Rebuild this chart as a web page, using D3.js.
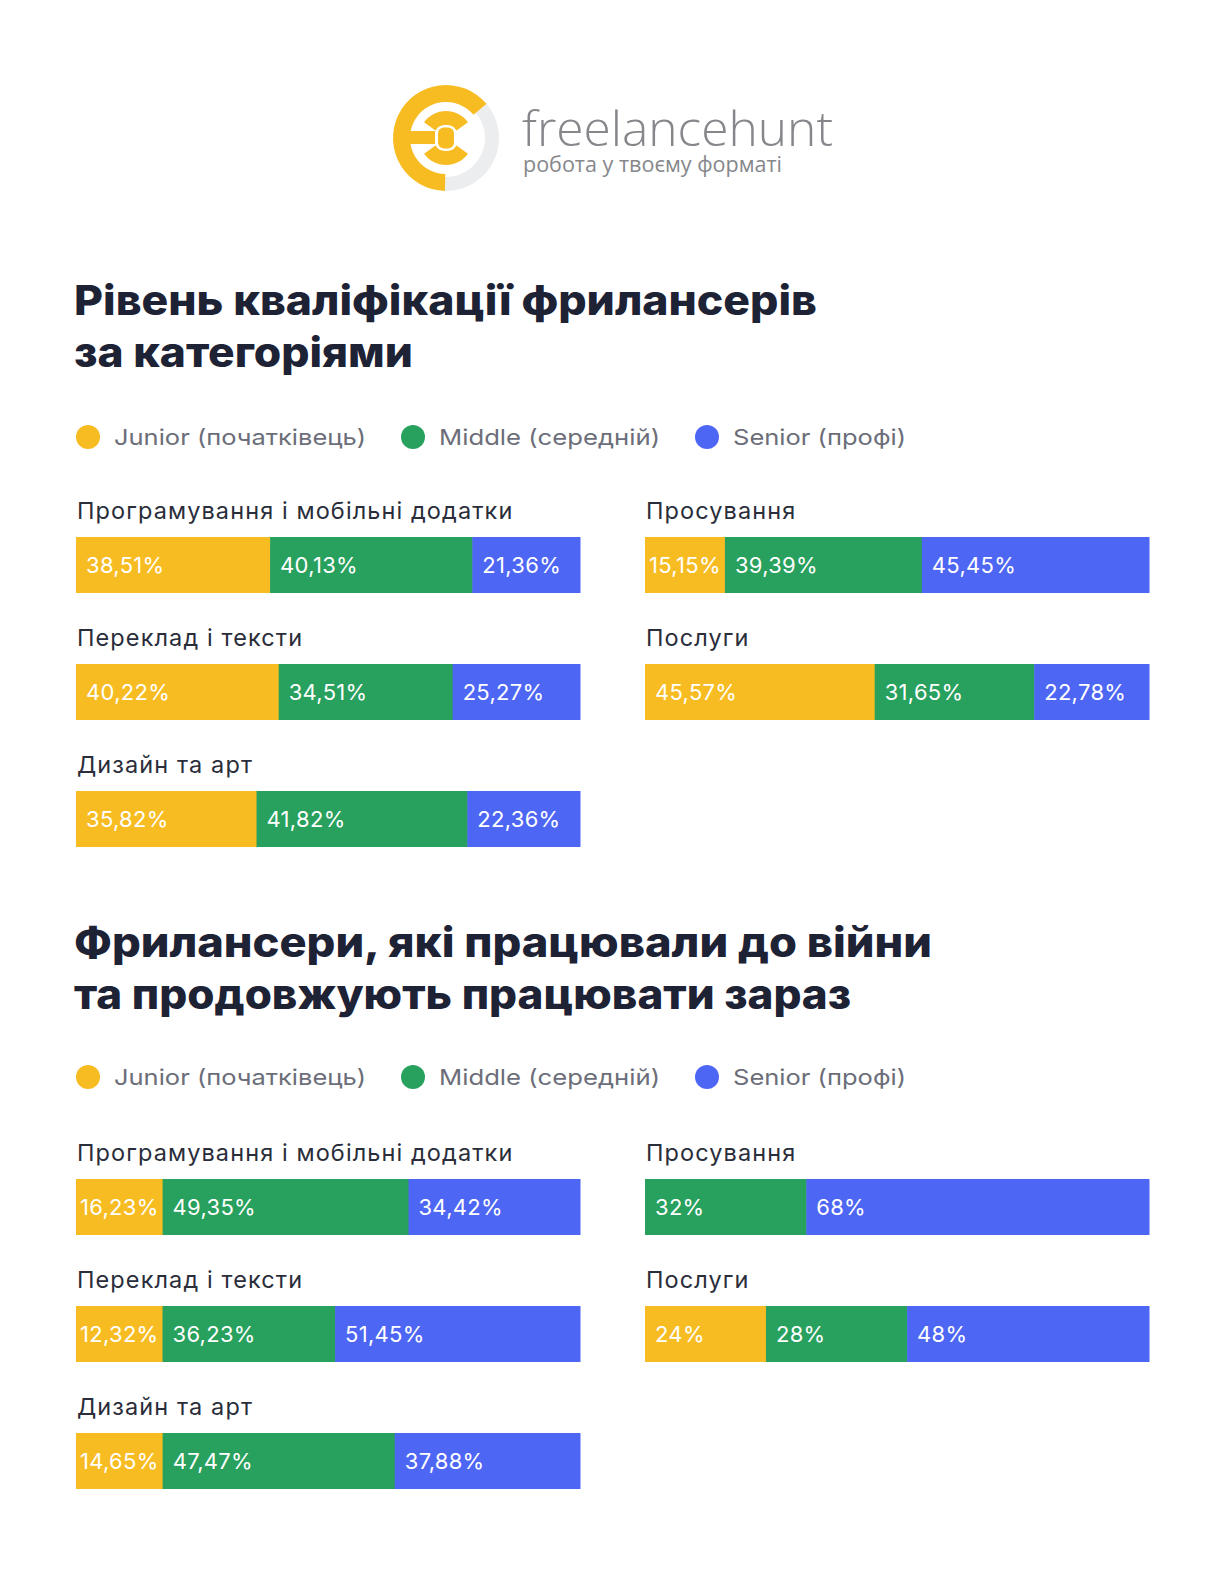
<!DOCTYPE html>
<html><head><meta charset="utf-8">
<script src="https://cdn.jsdelivr.net/npm/d3@7"></script>
<style>
html,body{margin:0;padding:0;background:#fff;}
svg{display:block;font-family:Inter,"Noto Sans",sans-serif;}
</style></head>
<body>
<svg id="c" width="1225" height="1569"></svg>
<script>
// ---- data ----
const seriesNames = ["Junior (початківець)", "Middle (середній)", "Senior (профі)"];
const seriesColors = ["#F8BC23", "#28A05E", "#4E66F4"];

const chart1Title = ["Рівень кваліфікації фрилансерів", "за категоріями"];
const chart1Left = ["Програмування і мобільні додатки", "Переклад і тексти", "Дизайн та арт"];
const chart1Right = ["Просування", "Послуги"];
const chart1LeftValues = [[38.51, 40.13, 21.36], [40.22, 34.51, 25.27], [35.82, 41.82, 22.36]];
const chart1RightValues = [[15.15, 39.39, 45.45], [45.57, 31.65, 22.78]];

const chart2Title = ["Фрилансери, які працювали до війни", "та продовжують працювати зараз"];
const chart2Left = ["Програмування і мобільні додатки", "Переклад і тексти", "Дизайн та арт"];
const chart2Right = ["Просування", "Послуги"];
const chart2LeftValues = [[16.23, 49.35, 34.42], [12.32, 36.23, 51.45], [14.65, 47.47, 37.88]];
const chart2RightValues = [[0, 32, 68], [24, 28, 48]];

const fmt = v => (Number.isInteger(v) ? String(v) : v.toFixed(2).replace(".", ",")) + "%";

// ---- drawing ----
const svg = d3.select("#c");

// Logo
const logo = svg.append("g").attr("transform", "translate(446,138)");
const arc = d3.arc();
logo.append("path").attr("d", arc({innerRadius: 39, outerRadius: 53, startAngle: 0.8, endAngle: Math.PI + 0.05})).attr("fill", "#ECEDEE");
logo.append("path").attr("d", arc({innerRadius: 36, outerRadius: 53, startAngle: Math.PI + 0.02, endAngle: 2 * Math.PI + 0.87, cornerRadius: 7})).attr("fill", "#F8BC23");
logo.append("rect").attr("x", -42).attr("y", -7).attr("width", 31).attr("height", 13).attr("fill", "#F8BC23");
logo.append("path").attr("d", arc({innerRadius: 13, outerRadius: 27, startAngle: -0.95, endAngle: 0.95})).attr("fill", "#F8BC23");
logo.append("path").attr("d", arc({innerRadius: 13, outerRadius: 27, startAngle: Math.PI - 0.95, endAngle: Math.PI + 0.95})).attr("fill", "#F8BC23");
logo.append("rect").attr("x", -10).attr("y", -12.5).attr("width", 20).attr("height", 25).attr("rx", 7).attr("fill", "#fff");
logo.append("rect").attr("x", -8).attr("y", -10.5).attr("width", 16).attr("height", 21).attr("rx", 6).attr("fill", "#F8BC23");

svg.append("text").attr("x", 522).attr("y", 146).attr("font-family", "'Open Sans',sans-serif").attr("font-weight", 300)
  .attr("font-size", 47).attr("fill", "#85878B").attr("textLength", 311).attr("lengthAdjust", "spacingAndGlyphs").text("freelancehunt");
svg.append("text").attr("x", 523).attr("y", 172).attr("font-family", "'Open Sans',sans-serif").attr("font-weight", 400)
  .attr("font-size", 21).attr("fill", "#85878B").attr("textLength", 259).attr("lengthAdjust", "spacingAndGlyphs").text("робота у твоєму форматі");

function drawChart(cfg) {
  const g = svg.append("g");
  // title
  cfg.title.forEach((t, i) => {
    g.append("text").attr("x", 74).attr("y", cfg.titleY + i * 52)
      .attr("font-size", 41).attr("font-weight", 800).attr("fill", "#1E2235")
      .attr("textLength", cfg.titleLen[i]).attr("lengthAdjust", "spacingAndGlyphs").text(t);
  });
  // legend
  const legX = [88, 413, 707];
  const legLen = [252, 221, 173];
  seriesNames.forEach((s, i) => {
    g.append("circle").attr("cx", legX[i]).attr("cy", cfg.legendY).attr("r", 12).attr("fill", seriesColors[i]);
    g.append("text").attr("x", legX[i] + 26).attr("y", cfg.legendY + 8).attr("font-size", 22)
      .attr("fill", "#6B6E79").attr("textLength", legLen[i]).attr("lengthAdjust", "spacingAndGlyphs").text(s);
  });
  // bars
  const colX = [76, 645];
  const barW = 504, barH = 56;
  const rowY = d3.scalePoint().domain([0, 1, 2]).range(cfg.rowRange);
  const x = d3.scaleLinear().domain([0, 100]).range([0, barW]);
  const cols = [[cfg.left, cfg.leftValues], [cfg.right, cfg.rightValues]];
  cols.forEach(([names, vals], ci) => {
    names.forEach((name, ri) => {
      const y0 = rowY(ri);
      g.append("text").attr("x", colX[ci] + 1).attr("y", y0 - 18).attr("font-size", 23.5)
        .attr("fill", "#2A2D3A").attr("letter-spacing", 1.1).text(name);
      const v = vals[ri];
      // measure labels
      const tmp = g.append("g");
      const lw = v.map(d => {
        const t = tmp.append("text").attr("font-size", 22).attr("letter-spacing", 0.3).text(fmt(d));
        return t.node().getComputedTextLength();
      });
      tmp.remove();
      // widths from the scale, with a minimum room for narrow labels
      let w = v.map(d => x(d));
      const minW = v.map((d, i) => d > 0 ? lw[i] + 8 : 0);
      const small = w.map((ww, i) => v[i] > 0 && ww < minW[i]);
      const fixedSum = d3.sum(w.map((ww, i) => small[i] ? minW[i] : 0));
      const restVal = d3.sum(v.filter((dd, i) => !small[i]));
      const restScale = d3.scaleLinear().domain([0, restVal]).range([0, barW - fixedSum]);
      w = v.map((dd, i) => small[i] ? minW[i] : restScale(dd));
      let cx = colX[ci];
      v.forEach((dd, i) => {
        if (dd <= 0) return;
        g.append("rect").attr("x", cx).attr("y", y0).attr("width", w[i] + 0.5).attr("height", barH).attr("fill", seriesColors[i]);
        const pad = Math.max(3, Math.min(10, (w[i] - lw[i]) / 2));
        g.append("text").attr("x", cx + pad).attr("y", y0 + barH / 2 + 8).attr("font-size", 22)
          .attr("letter-spacing", 0.3).attr("fill", "#fff").text(fmt(dd));
        cx += w[i];
      });
    });
  });
}

drawChart({title: chart1Title, titleY: 315, titleLen: [743, 339], legendY: 437, rowRange: [537, 791],
  left: chart1Left, right: chart1Right, leftValues: chart1LeftValues, rightValues: chart1RightValues});
drawChart({title: chart2Title, titleY: 957, titleLen: [858, 777], legendY: 1077, rowRange: [1179, 1433],
  left: chart2Left, right: chart2Right, leftValues: chart2LeftValues, rightValues: chart2RightValues});
</script>
</body></html>
